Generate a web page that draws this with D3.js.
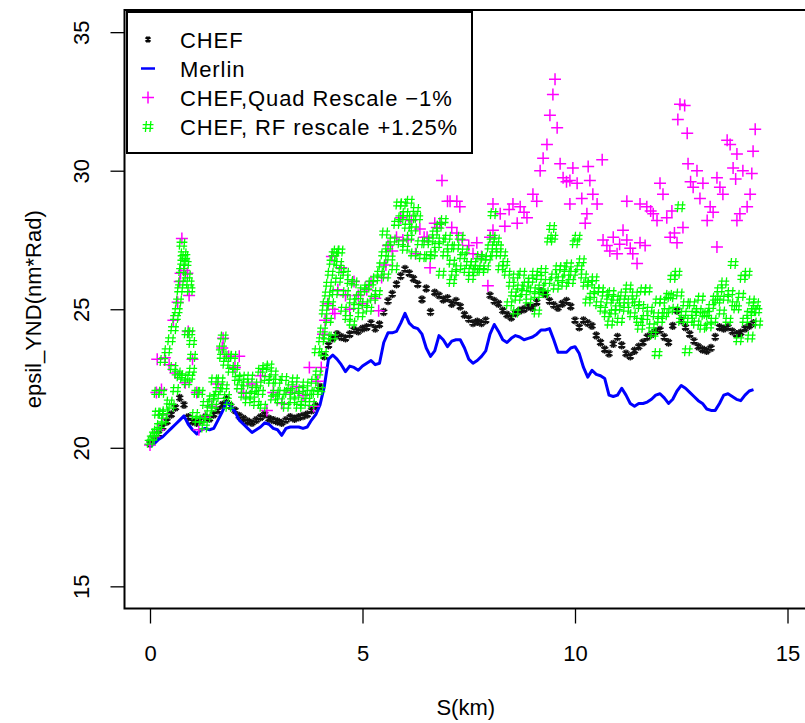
<!DOCTYPE html>
<html>
<head>
<meta charset="utf-8">
<script src="https://cdn.jsdelivr.net/npm/d3@7"></script>
<style>
  body { margin: 0; background: #fff; }
  svg text { font-family: "Liberation Sans", Arial, Helvetica, sans-serif; fill: #000; }
</style>
</head>
<body>
<svg id="chart" width="805" height="723"></svg>
<script>
// Position along the ring (km) of the sampled CHEF / Merlin emittance values
const sKm = [
  0.0,0.1,0.2,0.3,0.4,0.5,0.6,0.7,0.8,0.9,
  1.0,1.1,1.2,1.3,1.4,1.5,1.6,1.7,1.8,1.9,
  2.0,2.1,2.2,2.3,2.4,2.5,2.6,2.7,2.8,2.9,
  3.0,3.1,3.2,3.3,3.4,3.5,3.6,3.7,3.8,3.9,
  4.0,4.1,4.2,4.3,4.4,4.5,4.6,4.7,4.8,4.9,
  5.0,5.1,5.2,5.3,5.4,5.5,5.6,5.7,5.8,5.9,
  6.0,6.1,6.2,6.3,6.4,6.5,6.6,6.7,6.8,6.9,
  7.0,7.1,7.2,7.3,7.4,7.5,7.6,7.7,7.8,7.9,
  8.0,8.1,8.2,8.3,8.4,8.5,8.6,8.7,8.8,8.9,
  9.0,9.1,9.2,9.3,9.4,9.5,9.6,9.7,9.8,9.9,
  10.0,10.1,10.2,10.3,10.4,10.5,10.6,10.7,10.8,10.9,
  11.0,11.1,11.2,11.3,11.4,11.5,11.6,11.7,11.8,11.9,
  12.0,12.1,12.2,12.3,12.4,12.5,12.6,12.7,12.8,12.9,
  13.0,13.1,13.2,13.3,13.4,13.5,13.6,13.7,13.8,13.9,
  14.0,14.1,14.2
];

// CHEF epsilon_y (nm*rad)
const chef = [
  20.15,20.3,20.5,20.75,20.95,21.2,21.45,21.8,21.55,21.1,
  20.95,20.9,21.0,21.1,21.05,21.2,21.35,21.55,21.75,21.5,
  21.35,21.15,21.05,20.95,20.9,21.0,21.1,21.2,21.05,21.0,
  20.95,20.9,21.0,21.1,21.05,21.1,21.15,21.2,21.35,21.5,
  22.2,23.3,23.7,23.95,24.1,24.0,23.95,24.1,24.25,24.2,
  24.3,24.35,24.5,24.3,24.45,24.9,25.3,25.55,25.9,26.2,
  26.45,26.3,26.1,25.9,25.35,25.75,24.9,25.6,25.5,25.35,
  25.4,25.2,25.3,25.1,24.8,24.65,24.5,24.55,24.5,24.6,
  25.5,25.3,25.2,24.95,24.8,24.7,24.85,24.95,25.0,25.1,
  25.05,25.25,25.65,25.55,25.3,25.15,25.05,25.2,25.3,25.1,
  24.6,24.35,24.6,24.5,24.4,24.05,23.8,23.55,23.4,23.75,
  24.0,23.7,23.4,23.3,23.5,23.65,23.8,24.0,24.1,24.2,
  24.25,24.0,23.8,24.4,24.95,24.6,24.35,24.1,23.85,23.65,
  23.55,23.5,23.6,24.0,24.35,24.3,24.35,24.2,24.1,24.15,
  24.3,24.4,24.5
];

// Merlin epsilon_y (nm*rad)
const merlin = [
  20.05,20.15,20.3,20.4,20.55,20.7,20.85,21.0,21.15,20.85,
  20.65,20.5,20.65,20.7,20.65,20.7,21.0,21.3,21.65,21.5,
  21.3,21.0,20.85,20.7,20.55,20.65,20.75,20.9,20.85,20.7,
  20.65,20.45,20.7,20.75,20.75,20.75,20.7,20.75,21.0,21.2,
  21.55,22.2,23.2,23.35,23.2,23.0,22.75,22.95,22.9,22.8,
  22.95,23.05,23.15,23.0,23.05,23.8,24.15,24.15,24.2,24.5,
  24.85,24.5,24.35,24.3,24.1,23.6,23.3,23.5,24.05,23.9,
  23.65,23.85,23.9,23.9,23.6,23.2,23.05,23.15,23.3,23.5,
  24.1,24.45,24.2,23.9,23.8,23.95,24.05,24.0,23.9,23.95,
  24.0,24.1,24.25,24.25,24.3,23.9,23.45,23.45,23.45,23.6,
  23.65,23.4,22.9,22.55,22.8,22.65,22.6,22.5,21.9,21.85,
  21.9,22.15,21.9,21.6,21.5,21.6,21.6,21.65,21.75,21.9,
  21.95,21.8,21.6,21.75,22.05,22.25,22.15,22.0,21.85,21.7,
  21.6,21.4,21.35,21.35,21.6,21.9,21.95,21.85,21.75,21.7,
  21.9,22.05,22.1
];

// CHEF with quadrupole rescale -1%: [s (km), epsilon_y]
const quadRescale = [
  [0,20.1],[0.1,20.4],[0.2,20.65],[0.3,21.2],[0.15,22.0],[0.27,22.1],[0.17,23.2],[0.35,23.25],[0.45,23.0],
  [0.55,24.6],[0.65,25.25],[0.7,26.0],[0.72,26.3],[0.75,27.55],[0.8,26.4],[0.88,26.3],[0.92,25.5],[0.9,24.2],
  [0.83,22.35],[0.6,22.7],[1.0,23.2],[1.1,22.0],[1.15,20.65],[1.3,21.1],[1.45,21.5],[1.6,22.3],[1.72,23.95],
  [1.7,23.6],[1.85,23.3],[2.0,22.9],[2.1,23.3],[2.2,22.0],[2.4,22.3],[2.6,22.6],[2.75,21.35],[2.9,22.0],
  [3.1,21.6],[3.3,22.0],[3.45,22.2],[3.6,21.9],[3.75,22.9],[3.85,21.5],[3.95,22.4],[4.03,22.9],[4.07,24.1],
  [4.12,24.6],[4.18,25.2],[4.28,26.9],[4.3,25.0],[4.35,24.85],[4.42,25.7],[4.5,26.5],[4.6,25.5],[4.7,25.0],
  [4.8,26.0],[4.9,25.5],[5.0,25.2],[5.1,25.7],[5.2,26.0],[5.3,25.4],[5.38,24.95],[5.45,26.15],[5.55,26.6],
  [5.6,27.3],[5.7,27.1],[5.8,27.6],[5.9,28.3],[5.95,27.5],
  [6.07,27.5],[6.15,28.2],[6.25,27.0],[6.35,27.9],[6.45,27.6],[6.52,27.6],[6.59,26.5],[6.7,28.1],[6.75,27.95],
  [6.82,28.1],[6.87,29.65],[7.0,28.9],[7.06,28.9],[7.1,27.95],[7.22,28.9],[7.29,28.7],[7.22,27.75],[7.35,27.5],
  [7.5,27.3],[7.6,27.0],[7.69,27.4],[7.8,26.9],[7.95,25.85],[8.0,27.6],
  [8.07,28.8],[8.07,27.85],[8.24,28.45],[8.35,28.0],[8.45,28.6],[8.54,28.8],[8.64,28.1],[8.71,28.7],[8.8,28.5],
  [8.87,28.3],[9.01,29.15],[9.1,28.9],[9.18,30.0],[9.25,30.45],[9.34,30.95],[9.41,32.0],[9.48,32.75],[9.53,33.3],
  [9.58,31.55],[9.65,30.25],[9.72,29.75],[9.8,29.6],[9.88,29.65],[9.88,28.8],[9.95,30.1],[10.05,29.55],[10.16,29.0],
  [10.24,28.1],[10.28,28.45],[10.31,30.15],[10.35,29.65],[10.42,29.15],[10.52,28.8],[10.64,30.4],[10.66,27.5],
  [10.75,27.3],[10.82,27.1],[10.9,27.6],[10.99,27.0],[11.05,27.35],[11.13,27.85],[11.22,27.5],[11.22,28.9],
  [11.3,27.2],[11.36,27.0],[11.46,26.65],[11.53,27.4],[11.53,28.8],[11.65,27.3],[11.69,28.7],[11.78,28.55],
  [11.84,28.45],[11.93,28.2],[12.0,29.55],[12.07,29.15],[12.16,28.3],[12.24,27.6],[12.28,28.55],[12.34,27.75],
  [12.4,27.4],[12.42,31.85],[12.47,32.4],[12.54,27.95],[12.58,32.35],[12.64,31.35],[12.66,30.25],[12.72,29.6],
  [12.78,29.4],[12.87,30.0],[12.94,29.0],[13.01,29.55],[13.11,28.2],[13.18,28.7],[13.25,28.5],[13.34,29.75],
  [13.34,27.25],[13.41,29.4],[13.48,29.15],[13.58,31.1],[13.65,30.95],[13.72,30.1],[13.78,29.7],[13.81,30.6],
  [13.81,28.2],[13.88,28.45],[13.95,30.0],[14.05,28.7],[14.12,29.15],[14.16,29.9],[14.19,30.7],[14.24,31.5]
];

// CHEF with RF rescale +1.25%: [s (km), epsilon_y]
const rfRescale = [
  [0,20.2],[0.05,20.35],[0.1,20.5],[0.15,20.6],[0.17,21.25],[0.16,22.0],[0.27,22.0],[0.25,21.25],[0.35,21.3],
  [0.45,21.65],[0.3,23.15],[0.4,23.5],[0.48,23.9],[0.22,20.8],[0.32,21.0],
  [0.55,24.3],[0.6,24.7],[0.64,24.95],[0.67,25.3],[0.7,25.7],[0.72,25.95],[0.74,26.4],[0.77,26.7],[0.78,27.0],
  [0.75,27.35],[0.82,26.9],[0.85,26.65],[0.88,26.2],[0.92,25.95],[0.94,25.7],[0.87,24.15],[0.94,24.15],[0.98,23.8],
  [0.54,22.9],[0.64,22.7],[0.7,22.6],[0.78,22.55],[0.87,22.35],[0.94,22.55],[1.0,23.3],[0.98,22.8],[0.6,22.1],[0.5,21.5],
  [1.1,22.0],[1.18,22.0],[1.12,21.0],[1.22,21.0],[1.28,20.75],[1.35,21.1],[1.4,21.4],[1.45,21.8],[1.5,21.5],
  [1.55,21.85],[1.3,21.6],[1.05,21.2],[1.6,22.1],[1.5,22.45],
  [1.65,22.45],[1.7,23.3],[1.72,24.0],[1.68,23.6],[1.78,23.05],[1.85,23.3],[1.9,22.8],[1.95,23.3],[2.0,22.9],
  [2.05,22.5],[2.1,22.2],[2.15,22.55],[1.75,22.2],[1.8,21.85],[1.85,21.5],[2.2,21.9],
  [2.25,22.3],[2.35,22.55],[2.4,21.9],[2.45,22.1],[2.5,21.6],[2.55,22.3],[2.6,22.8],[2.65,21.5],[2.7,22.9],
  [2.75,22.5],[2.8,22.95],[2.85,22.4],[2.9,22.7],[2.95,22.0],[3.0,22.4],[3.05,21.7],[3.1,22.0],[3.15,22.5],
  [3.2,21.5],[2.3,21.7],[2.6,22.0],[2.9,21.8],
  [3.25,22.0],[3.3,22.2],[3.35,21.7],[3.4,22.45],[3.45,21.9],[3.5,21.5],[3.55,22.1],[3.6,21.6],[3.65,22.3],
  [3.7,21.85],[3.75,22.0],[3.8,21.6],[3.85,22.4],[3.9,22.0],[3.95,22.7],[3.93,23.5],[4.0,22.1],
  [4.03,23.9],[4.06,24.25],[4.1,24.9],[4.12,25.2],[4.17,25.55],[4.2,25.9],[4.24,26.3],[4.28,26.7],[4.33,27.0],
  [4.38,27.1],[4.44,26.65],[4.47,27.1],[4.2,24.6],[4.25,25.2],[4.3,24.0],[4.35,25.6],[4.42,26.05],[4.5,26.4],
  [4.08,23.4],[4.15,24.0],
  [4.55,25.0],[4.6,25.6],[4.65,24.7],[4.7,26.0],[4.75,25.3],[4.8,25.95],[4.85,25.1],[4.9,25.45],[4.95,24.8],
  [5.0,25.7],[5.05,25.2],[5.1,25.8],[5.15,25.0],[5.2,25.95],[5.25,25.4],[5.3,26.1],[5.35,25.6],[5.4,26.3],
  [4.6,26.3],[4.75,24.5],
  [5.45,26.6],[5.5,27.0],[5.52,27.75],[5.55,26.2],[5.6,27.25],[5.65,26.85],[5.7,27.5],[5.75,26.5],[5.8,28.1],
  [5.85,28.8],[5.9,28.3],[5.95,28.8],[6.0,28.45],[6.05,28.0],[6.1,28.9],[6.15,28.3],[6.2,27.9],[6.25,28.6],
  [6.3,28.3],[6.35,27.4],[6.4,26.9],[5.9,27.4],[6.0,27.2],[6.1,27.6],[6.2,27.0],
  [6.5,27.4],[6.55,26.9],[6.6,27.5],[6.65,27.0],[6.7,27.75],[6.75,27.3],[6.8,28.0],[6.85,27.5],[6.9,28.2],
  [6.95,27.0],[7.0,27.6],[7.05,27.25],[7.1,26.7],[7.15,26.3],[7.2,27.25],[7.25,26.5],[7.3,27.6],[7.35,26.9],
  [7.4,27.1],[7.45,26.4],[7.5,26.65],[7.55,26.15],[7.6,26.65],[7.65,26.4],[7.7,26.5],[7.75,26.9],[7.8,26.4],
  [7.85,26.85],[7.9,26.5],[7.95,26.85],[8.0,27.25],[8.05,27.6],[8.07,28.45],[8.1,27.0],[8.15,27.5],[8.2,27.25],
  [8.25,26.5],[8.3,27.0],[8.35,26.65],[8.4,26.3],[6.85,26.3],[7.1,26.0],
  [8.45,25.2],[8.5,25.9],[8.55,25.55],[8.6,26.2],[8.65,25.4],[8.7,25.8],[8.75,26.3],[8.8,25.6],[8.85,25.9],
  [8.9,25.3],[8.95,26.05],[9.0,25.7],[9.05,26.3],[9.1,25.5],[9.15,26.15],[9.2,25.8],[9.25,26.4],[9.3,25.6],
  [9.35,26.0],[9.4,27.5],[9.45,27.95],[9.48,27.6],[9.5,26.2],[9.55,25.8],[9.6,26.5],[9.65,26.1],[9.7,26.5],
  [9.75,25.9],[9.8,26.3],[9.85,26.6],[9.9,26.0],[9.95,26.3],[10.0,27.4],[10.05,27.6],[10.1,26.5],[10.15,26.75],
  [10.2,26.2],[8.6,24.9],[9.1,24.9],
  [10.25,25.9],[10.3,25.3],[10.35,25.95],[10.4,25.5],[10.45,26.1],[10.5,25.7],[10.55,25.2],[10.6,25.7],
  [10.65,25.0],[10.7,25.55],[10.75,24.8],[10.8,25.3],[10.82,24.5],[10.85,25.6],[10.9,24.9],[10.95,25.4],
  [11.0,25.05],[11.05,24.6],[11.1,25.3],[11.13,25.55],[11.2,25.0],[11.25,25.8],[11.3,25.3],[11.35,24.8],
  [11.4,25.55],[11.45,25.2],[11.5,24.6],[11.53,24.35],[11.55,25.1],[11.6,25.7],[11.65,24.7],[11.7,25.7],
  [11.75,25.0],[11.8,24.4],[11.84,24.1],[11.9,24.8],[11.93,23.4],[11.95,25.3],[12.0,24.6],
  [12.05,25.3],[12.1,24.8],[12.15,24.95],[12.2,25.5],[12.25,25.45],[12.3,26.15],[12.35,25.0],[12.4,26.3],
  [12.45,25.55],[12.47,28.7],[12.5,24.6],[12.55,24.85],[12.6,25.2],[12.64,23.5],[12.7,24.6],[12.75,25.2],
  [12.8,24.85],[12.85,24.5],[12.9,24.95],[12.95,25.4],[13.0,24.35],[13.05,24.8],[13.1,24.85],[13.15,24.4],
  [13.2,25.1],[13.25,24.6],[13.3,25.4],[13.35,25.3],[13.4,25.7],[13.45,24.9],[13.5,25.95],[13.55,25.4],
  [13.6,24.6],[13.65,25.6],[13.72,26.65],[13.75,25.2],[13.8,25.05],[13.85,23.9],[13.9,25.5],[13.95,26.15],
  [14.0,24.6],[14.05,26.3],[14.1,24.85],[14.12,24.0],[14.15,25.3],[14.2,24.95],[14.25,25.2],[14.28,24.95],[14.3,24.5]
];

const xTicks = [0, 5, 10, 15];
const yTicks = [15, 20, 25, 30, 35];
const xLimits = [0, 15];
const yLimits = [15, 35];
const xTitle = "S(km)";
const yTitle = "epsil_YND(nm*Rad)";
const legendLabels = ["CHEF", "Merlin", "CHEF,Quad Rescale \u22121%", "CHEF, RF rescale +1.25%"];

const svg = d3.select("#chart");

// plot region; limits padded by 4% on each side
const plot = { left: 124.5, right: 813, top: 10, bottom: 608.5 };
const pad = v => (v[1] - v[0]) * 0.04;
const x = d3.scaleLinear()
  .domain([xLimits[0] - pad(xLimits), xLimits[1] + pad(xLimits)])
  .range([plot.left, plot.right]);
const y = d3.scaleLinear()
  .domain([yLimits[0] - pad(yLimits), yLimits[1] + pad(yLimits)])
  .range([plot.bottom, plot.top]);

// marker shapes
const starPath = "M0,-4.2V4.2M-3.6,-2.1L3.6,2.1M-3.6,2.1L3.6,-2.1M-2.1,-3.6L2.1,3.6M-2.1,3.6L2.1,-3.6";
const plusPath = "M-6,0H6M0,-6V6";
const hashPath = "M-1.6,-5.5L-2.6,5.5M2.9,-5.5L1.9,5.5M-5.3,-1.9H5.5M-5.5,1.9H5.3";

const clipId = "plotClip";
svg.append("clipPath").attr("id", clipId)
  .append("rect")
  .attr("x", plot.left).attr("y", plot.top)
  .attr("width", plot.right - plot.left).attr("height", plot.bottom - plot.top);

const marks = svg.append("g").attr("clip-path", `url(#${clipId})`);

// CHEF
marks.append("g").selectAll("path")
  .data(chef.map((v, i) => [sKm[i], v]))
  .join("path")
  .attr("transform", d => `translate(${x(d[0])},${y(d[1])})`)
  .attr("d", starPath)
  .attr("stroke", "#111").attr("stroke-width", 1.4).attr("fill", "none");

// Merlin
marks.append("path")
  .datum(merlin.map((v, i) => [sKm[i], v]))
  .attr("d", d3.line().x(d => x(d[0])).y(d => y(d[1])))
  .attr("fill", "none").attr("stroke", "#0000ff")
  .attr("stroke-width", 3).attr("stroke-linejoin", "round");

// Quad rescale
marks.append("g").selectAll("path")
  .data(quadRescale)
  .join("path")
  .attr("transform", d => `translate(${x(d[0])},${y(d[1])})`)
  .attr("d", plusPath)
  .attr("stroke", "#ff00ff").attr("stroke-width", 1.5).attr("fill", "none");

// RF rescale
marks.append("g").selectAll("path")
  .data(rfRescale)
  .join("path")
  .attr("transform", d => `translate(${x(d[0])},${y(d[1])})`)
  .attr("d", hashPath)
  .attr("stroke", "#00ff00").attr("stroke-width", 1.3).attr("fill", "none");

// axes
const xAxis = svg.append("g")
  .attr("transform", `translate(0,${plot.bottom})`)
  .call(d3.axisBottom(x).tickValues(xTicks).tickFormat(d3.format("d")).tickSize(15).tickSizeOuter(0));
xAxis.select(".domain").remove();
xAxis.selectAll(".tick line").attr("stroke", "#000").attr("stroke-width", 1.3);
xAxis.selectAll(".tick text")
  .attr("y", 52).attr("dy", null)
  .attr("font-size", 22).style("font-family", '"Liberation Sans", Arial, sans-serif');

const yAxis = svg.append("g")
  .attr("transform", `translate(${plot.left},0)`)
  .call(d3.axisLeft(y).tickValues(yTicks).tickFormat(d3.format("d")).tickSize(14).tickSizeOuter(0));
yAxis.select(".domain").remove();
yAxis.selectAll(".tick line").attr("stroke", "#000").attr("stroke-width", 1.3);
yAxis.selectAll(".tick text")
  .attr("x", null).attr("dy", null)
  .attr("text-anchor", "middle")
  .attr("transform", "translate(-36,0) rotate(-90)")
  .attr("y", 0)
  .attr("font-size", 22).style("font-family", '"Liberation Sans", Arial, sans-serif');

// frame
svg.append("rect")
  .attr("x", plot.left).attr("y", plot.top)
  .attr("width", plot.right - plot.left).attr("height", plot.bottom - plot.top)
  .attr("fill", "none").attr("stroke", "#000").attr("stroke-width", 2);

// axis titles
svg.append("text")
  .attr("x", (plot.left + plot.right) / 2 - 3).attr("y", 715)
  .attr("text-anchor", "middle").attr("font-size", 22)
  .text(xTitle);
svg.append("text")
  .attr("transform", `translate(41,${(plot.top + plot.bottom) / 2}) rotate(-90)`)
  .attr("text-anchor", "middle").attr("font-size", 22)
  .text(yTitle);

// legend
const legend = svg.append("g");
legend.append("rect")
  .attr("x", 127).attr("y", 12).attr("width", 345).attr("height", 141)
  .attr("fill", "#fff").attr("stroke", "#000").attr("stroke-width", 2);
const rowY = i => 39.5 + i * 29;
const sx = 148;
legend.append("path").attr("transform", `translate(${sx},${rowY(0)}) scale(0.8)`)
  .attr("d", starPath).attr("stroke", "#000").attr("stroke-width", 1.4).attr("fill", "none");
legend.append("line").attr("x1", sx - 7).attr("x2", sx + 7)
  .attr("y1", rowY(1)).attr("y2", rowY(1))
  .attr("stroke", "#0000ff").attr("stroke-width", 2.5);
legend.append("path").attr("transform", `translate(${sx},${rowY(2)})`)
  .attr("d", plusPath).attr("stroke", "#ff00ff").attr("stroke-width", 1.5).attr("fill", "none");
legend.append("path").attr("transform", `translate(${sx},${rowY(3)})`)
  .attr("d", hashPath).attr("stroke", "#00ff00").attr("stroke-width", 1.3).attr("fill", "none");
legend.selectAll("text.lab")
  .data(legendLabels)
  .join("text")
  .attr("class", "lab")
  .attr("x", 180).attr("y", (d, i) => rowY(i) + 8)
  .attr("font-size", 22).attr("letter-spacing", 0.9)
  .text(d => d);
</script>
</body>
</html>
